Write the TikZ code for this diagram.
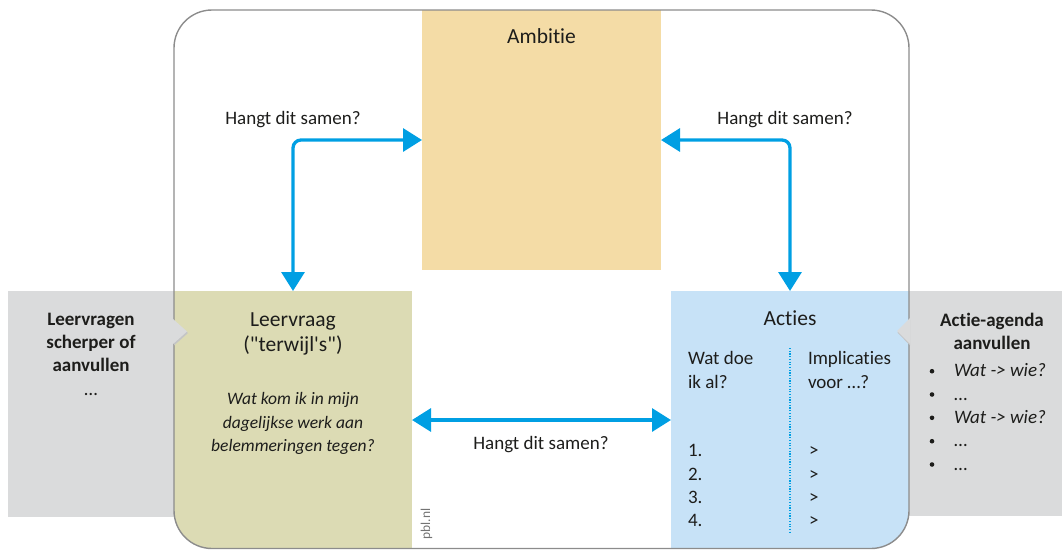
\documentclass[tikz,border=0pt]{standalone}
\usepackage{fontspec}
\setmainfont{Carlito}[Ligatures=NoCommon]
\usetikzlibrary{arrows.meta}

\definecolor{ambfill}{HTML}{F4DCA6}
\definecolor{leerfill}{HTML}{DCDBB4}
\definecolor{actfill}{HTML}{C7E2F7}
\definecolor{sidefill}{HTML}{DADBDC}
\definecolor{sideshade}{HTML}{C4C5C6}
\definecolor{frameline}{HTML}{8C8C8C}
\definecolor{linkblue}{HTML}{009FE3}
\definecolor{ink}{HTML}{1D1D1B}

\begin{document}
\begin{tikzpicture}[x=1pt,y=-1pt,
  panel/.style={draw=none, inner sep=0pt, outer sep=0pt},
  side/.style={panel, fill=sidefill},
  link/.style={draw=linkblue, line width=3.3pt, rounded corners=8pt,
    {Triangle[length=19pt,width=23pt]}-{Triangle[length=19pt,width=23pt]}},
  txt/.style={inner sep=0pt, outer sep=0pt, text=ink, font=\fontsize{19}{23.3}\selectfont},
  boldtxt/.style={txt, font=\fontsize{19}{23.3}\selectfont\bfseries},
  title/.style={txt, font=\fontsize{21.5}{25}\selectfont},
  question/.style={txt, font=\fontsize{17.5}{23.3}\selectfont\itshape},
  bullet/.style={inner sep=0pt, fill=ink, circle, minimum size=4.6pt},
  credit/.style={inner sep=0pt, text=black!55, font=\fontsize{13.5}{13.5}\selectfont, rotate=90},
  dotline/.style={draw=linkblue, line width=2pt, dash pattern=on 1.2pt off 1.5pt}
]
\useasboundingbox (0,0) rectangle (1062,549);

% side panels
\node[side, minimum width=166pt, minimum height=226pt] (lside) at (91,404) {};
\node[side, minimum width=153pt, minimum height=225pt] (rside) at (985.5,403.5) {};

% coloured panels, cut off by the rounded frame
\begin{scope}
  \clip[rounded corners=38pt] (174,10) rectangle (909,548.5);
  \node[panel, fill=ambfill, minimum width=239pt, minimum height=260pt] (amb) at (541.5,140) {};
  \node[panel, fill=leerfill, minimum width=238pt, minimum height=258pt] (leer) at (293,420) {};
  \node[panel, fill=actfill, minimum width=238pt, minimum height=258pt] (act) at (790,420) {};
\end{scope}

% outer frame
\draw[frameline, line width=1.4pt, rounded corners=38pt] (174,10) rectangle (909,548.5);

% speech-bubble pointers of the side panels
\fill[sideshade] (174,320.5) -- (188,333) -- (174,345.5) -- cycle;
\fill[sidefill] (173,319) -- (187,331.5) -- (173,344) -- cycle;
\fill[sideshade] (910,319.5) -- (897.5,332.5) -- (910,345.5) -- cycle;
\fill[sidefill] (910,318) -- (897,331) -- (910,344) -- cycle;

% connectors
\draw[link] (amb.west) -| (leer.north);
\draw[link] (amb.east) -| (act.north);
\draw[link] (leer.east) -- (act.west);

% connector labels
\node[txt, anchor=base] (qleft) at (293,124) {Hangt dit samen?};
\node[txt, anchor=base] (qright) at (785,124) {Hangt dit samen?};
\node[txt, anchor=base] (qbottom) at (541,449.3) {Hangt dit samen?};

% Ambitie
\node[title, anchor=base] (ambtitle) at (541.5,43.3) {Ambitie};

% Leervraag
\node[title, anchor=north, align=center] (leertitle) at (293,313)
  {Leervraag\\(\textquotedbl terwijl\textquotesingle s\textquotedbl)};
\node[question, anchor=north, align=center] (leerq) at (293,392.7)
  {Wat kom ik in mijn\\dagelijkse werk aan\\belemmeringen tegen?};

% Acties
\node[title, anchor=base] (acttitle) at (790,325) {Acties};
\node[txt, anchor=north west, align=left] (actleft) at (688,351.7) {Wat doe\\ik al?};
\node[txt, anchor=north west, align=left] (actright) at (808,351.7) {Implicaties\\voor …?};
\draw[dotline] (790,348) -- (790,532);
\foreach \i/\y in {1/456.7, 2/480, 3/503.3, 4/526.7} {
  \node[txt, anchor=base west] (num\i) at (688,\y) {\i.};
  \node[txt, anchor=base west] (gt\i) at (809,\y) {>};
}

% left side panel text
\node[boldtxt, anchor=north, align=center] (lefthead) at (91,313)
  {Leervragen\\scherper of\\aanvullen\\{\mdseries …}};

% right side panel text
\node[boldtxt, anchor=north, align=center] (righthead) at (992,312.7)
  {Actie-agenda\\aanvullen};
\foreach \i/\y/\t in {1/376.7/\itshape Wat -> wie?, 2/400/…, 3/423.3/\itshape Wat -> wie?, 4/446.7/…, 5/470/…} {
  \node[bullet] (dot\i) at (932,\y-5.5) {};
  \node[txt, anchor=base west] (item\i) at (954,\y) {\t};
}

% source credit
\node[credit] (pbl) at (426.5,524) {pbl.nl};
\end{tikzpicture}
\end{document}
